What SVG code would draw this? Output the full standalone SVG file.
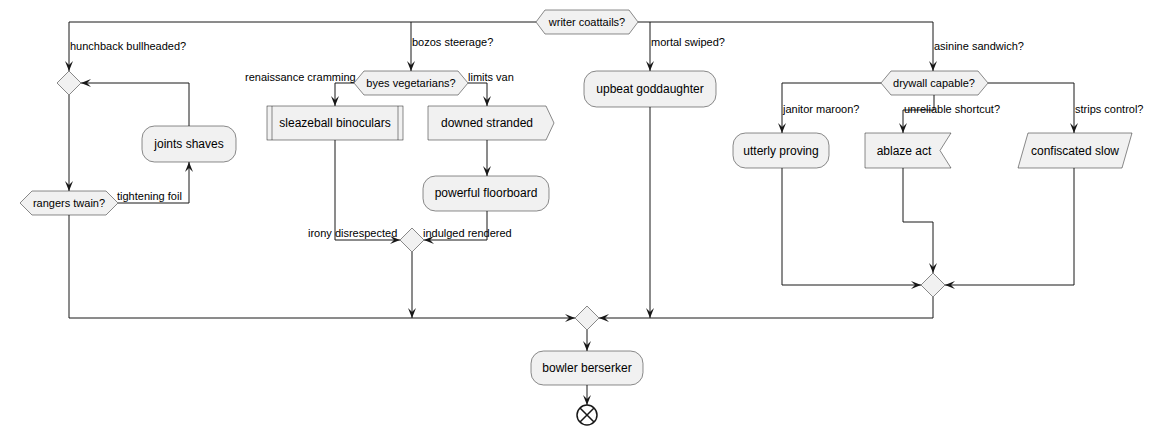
<svg xmlns="http://www.w3.org/2000/svg" width="1154" height="435" viewBox="0 0 1154 435">
<style>
.n{fill:#F1F1F1;stroke:#181818;stroke-width:0.5}
.c path{fill:none;stroke:#181818;stroke-width:1;marker-end:url(#ah)}
text{font-family:"Liberation Sans",Arial,sans-serif;fill:#000}
.t{font-size:12px;text-anchor:middle}
.h{font-size:11px;text-anchor:middle}
.l{font-size:11px}
.e{fill:none;stroke:#181818;stroke-width:1.5}
</style>
<defs>
<marker id="ah" viewBox="0 0 10 8" refX="10" refY="4" markerWidth="10" markerHeight="8" markerUnits="userSpaceOnUse" orient="auto">
<path d="M0,0 L10,4 L0,8 L4,4 Z" fill="#181818"/>
</marker>
</defs>
<rect width="1154" height="435" fill="#fff"/>
<g id="connectors" class="c">
<path d="M536,22 H69 V71"/>
<path d="M411,22 V71"/>
<path d="M638,22 H933 V71"/>
<path d="M650,22 V71"/>
<path d="M69,95 V191"/>
<path d="M118,203 H189 V162"/>
<path d="M189,126 V83 H81"/>
<path d="M69,215 V318 H575"/>
<path d="M354,83 H335 V106"/>
<path d="M468,83 H487 V106"/>
<path d="M487,140 V176"/>
<path d="M335,140 V240 H400"/>
<path d="M487,211 V240 H424"/>
<path d="M412,252 V318"/>
<path d="M650,107 V318"/>
<path d="M933,297 V318 H599"/>
<path d="M587,330 V351"/>
<path d="M587,385 V405"/>
<path d="M881,83 H782 V133"/>
<path d="M934,95 V110 H903 V133"/>
<path d="M988,83 H1074 V133"/>
<path d="M782,168 V285 H921"/>
<path d="M903,168 V222 H933 V273"/>
<path d="M1074,168 V285 H945"/>
</g>
<g id="labels">
<text class="l" x="70" y="50">hunchback bullheaded?</text>
<text class="l" x="412" y="46">bozos steerage?</text>
<text class="l" x="651" y="46">mortal swiped?</text>
<text class="l" x="934" y="50">asinine sandwich?</text>
<text class="l" x="245" y="81">renaissance cramming</text>
<text class="l" x="468" y="81">limits van</text>
<text class="l" x="783" y="113">janitor maroon?</text>
<text class="l" x="904" y="113">unreliable shortcut?</text>
<text class="l" x="1075" y="113">strips control?</text>
<text class="l" x="117" y="200">tightening foil</text>
<text class="l" x="308" y="237">irony disrespected</text>
<text class="l" x="423" y="237">indulged rendered</text>
</g>
<g id="writer-coattails">
<polygon class="n" points="536,22 545,10 629,10 638,22 629,34 545,34"/>
<text class="h" x="587" y="26">writer coattails?</text>
</g>
<g id="merge-left">
<polygon class="n" points="69,71 81,83 69,95 57,83"/>
</g>
<g id="rangers-twain">
<polygon class="n" points="20,203 32,191 106,191 118,203 106,215 32,215"/>
<text class="h" x="69" y="207">rangers twain?</text>
</g>
<g id="joints-shaves">
<rect class="n" x="142" y="126" width="94" height="36" rx="12.5"/>
<text class="t" x="189" y="148">joints shaves</text>
</g>
<g id="byes-vegetarians">
<polygon class="n" points="354,83 364,71 458,71 468,83 458,95 364,95"/>
<text class="h" x="411" y="87">byes vegetarians?</text>
</g>
<g id="sleazeball-binoculars">
<rect class="n" x="267" y="106" width="136" height="34"/>
<path class="n" d="M272,106 V140 M398,106 V140"/>
<text class="t" x="335" y="127">sleazeball binoculars</text>
</g>
<g id="downed-stranded">
<polygon class="n" points="428,106 546,106 554,123 546,140 428,140"/>
<text class="t" x="487" y="127">downed stranded</text>
</g>
<g id="powerful-floorboard">
<rect class="n" x="423" y="176" width="126" height="35" rx="12.5"/>
<text class="t" x="486" y="197">powerful floorboard</text>
</g>
<g id="merge-middle">
<polygon class="n" points="412,228 424,240 412,252 400,240"/>
</g>
<g id="upbeat-goddaughter">
<rect class="n" x="584" y="71" width="132" height="36" rx="12.5"/>
<text class="t" x="650" y="93">upbeat goddaughter</text>
</g>
<g id="drywall-capable">
<polygon class="n" points="881,83 891,71 978,71 988,83 978,95 891,95"/>
<text class="h" x="934" y="87">drywall capable?</text>
</g>
<g id="utterly-proving">
<rect class="n" x="733" y="133" width="96" height="35" rx="12.5"/>
<text class="t" x="781" y="155">utterly proving</text>
</g>
<g id="ablaze-act">
<polygon class="n" points="865,133 951,133 940,150.5 951,168 865,168"/>
<text class="t" x="904" y="155">ablaze act</text>
</g>
<g id="confiscated-slow">
<polygon class="n" points="1028,133 1132,133 1122,168 1018,168"/>
<text class="t" x="1075" y="155">confiscated slow</text>
</g>
<g id="merge-right">
<polygon class="n" points="933,273 945,285 933,297 921,285"/>
</g>
<g id="merge-main">
<polygon class="n" points="587,306 599,318 587,330 575,318"/>
</g>
<g id="bowler-berserker">
<rect class="n" x="531" y="351" width="112" height="34" rx="12.5"/>
<text class="t" x="587" y="372">bowler berserker</text>
</g>
<g id="end">
<circle cx="587" cy="415" r="10" fill="#fff" stroke="#181818" stroke-width="1.5"/>
<path class="e" d="M580,408 L594,422 M594,408 L580,422"/>
</g>
</svg>
